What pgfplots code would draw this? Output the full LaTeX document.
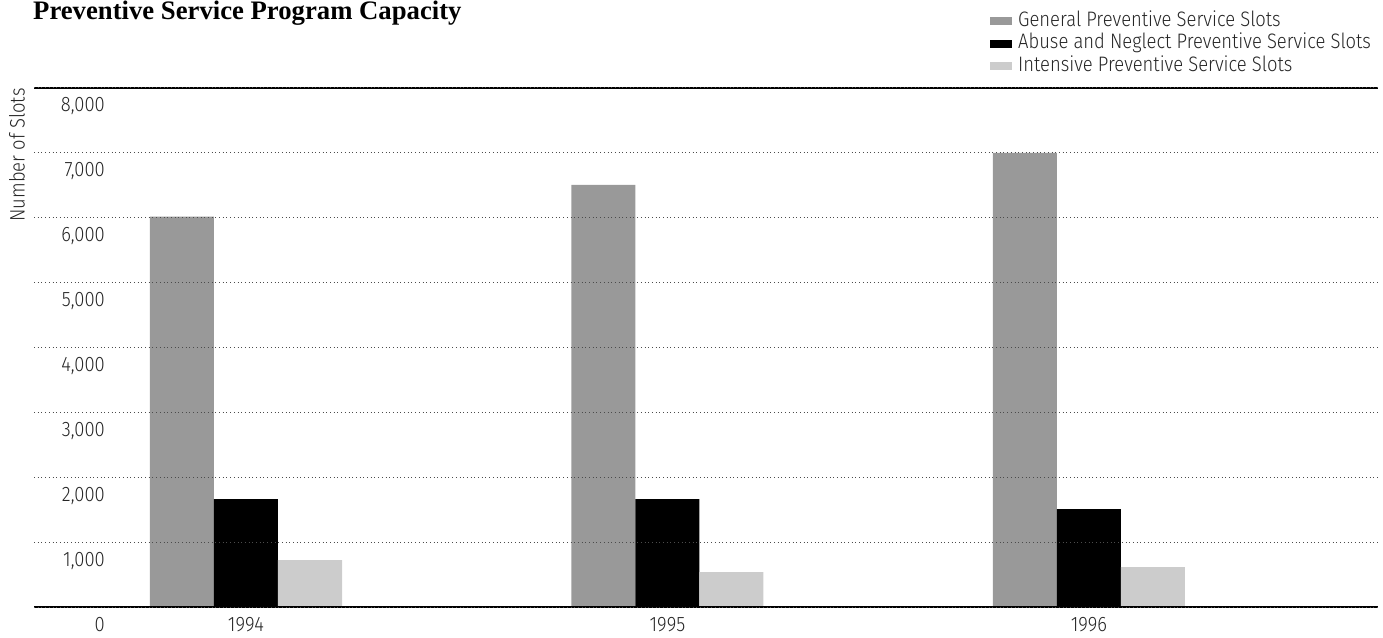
\documentclass[border=0pt]{standalone}
\usepackage{pgfplots}
\pgfplotsset{compat=1.18}
\usepackage{fontspec}
\setmainfont{Fira Sans Light}[FakeStretch=0.88]
\newfontfamily\titlefont{Liberation Serif}

\definecolor{general}{HTML}{999999}
\definecolor{abuse}{HTML}{000000}
\definecolor{intensive}{HTML}{CCCCCC}

\begin{document}
\begin{tikzpicture}[x=1bp,y=1bp]
\useasboundingbox (0,0) rectangle (1383,638);
\node[anchor=base west, inner sep=0,
      font=\titlefont\bfseries\fontsize{26.8}{30}\selectfont]
  at (33,618) {Preventive Service Program Capacity};
\begin{axis}[
  at={(34bp,30bp)}, anchor=south west,
  scale only axis, width=1344bp, height=520bp,
  xmin=-0.503, xmax=2.686, ymin=0, ymax=8000,
  axis line style={draw=none},
  axis on top,
  major tick length=0pt,
  xtick={0,1,2}, xticklabels={1994,1995,1996},
  ytick={0,1000,...,8000},
  ymajorgrids,
  major grid style={black!70, line width=1bp, dash pattern=on 1bp off 2.7bp},
  font=\fontsize{21}{24}\selectfont,
  /pgf/number format/assume math mode=true,
  /pgf/number format/1000 sep={,},
  yticklabel style={anchor=north east, inner sep=0pt, xshift=71bp, yshift=-9bp, text=black!85},
  xticklabel style={anchor=north, inner sep=0pt, yshift=-9bp, text=black!85},
  ylabel={Number of Slots},
  ylabel style={at={(axis description cs:-0.0067,0.871)}, anchor=south, inner sep=0pt, text=black!85},
  ybar=0pt, bar width=64bp,
  legend image code/.code={\fill[#1] (0bp,-4bp) rectangle (22bp,4bp);},
  legend style={at={(axis description cs:0.7113,1.15)}, anchor=north west,
    draw=none, fill=none, inner sep=0pt, row sep=0pt,
    nodes={inner sep=1bp, text height=15bp, text depth=5.5bp, text=black!85},
    /tikz/every odd column/.append style={column sep=5bp},
    font=\fontsize{21}{24}\selectfont},
  legend cell align=left,
]
\addplot[fill=general, draw=none] coordinates {(0,6020) (1,6510) (2,7000)};
\addplot[fill=abuse, draw=none] coordinates {(0,1675) (1,1675) (2,1520)};
\addplot[fill=intensive, draw=none] coordinates {(0,735) (1,550) (2,630)};
\legend{General Preventive Service Slots, Abuse and Neglect Preventive Service Slots, Intensive Preventive Service Slots}
\draw[line width=3bp] (rel axis cs:0,0) -- (rel axis cs:1,0);
\draw[line width=3bp] (rel axis cs:0,1) -- (rel axis cs:1,1);
\end{axis}
\end{tikzpicture}
\end{document}
